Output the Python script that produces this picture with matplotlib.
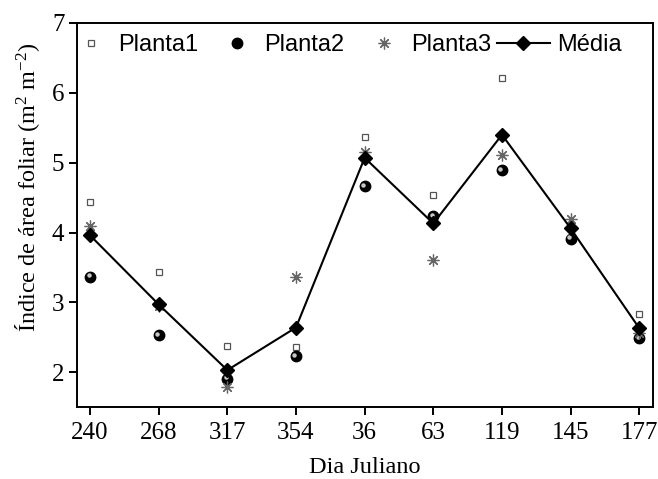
import matplotlib.pyplot as plt
import numpy as np
from matplotlib.legend_handler import HandlerLine2D
from matplotlib.transforms import ScaledTranslation

plt.rcParams['font.family'] = 'Liberation Serif'
plt.rcParams['mathtext.fontset'] = 'custom'
plt.rcParams['mathtext.rm'] = 'Liberation Serif'
plt.rcParams['mathtext.default'] = 'rm'

dias = ['240', '268', '317', '354', '36', '63', '119', '145', '177']
planta1 = [4.43, 3.43, 2.37, 2.36, 5.37, 4.54, 6.21, 4.07, 2.84]
planta2 = [3.37, 2.53, 1.91, 2.23, 4.66, 4.23, 4.89, 3.91, 2.49]
planta3 = [4.09, 2.95, 1.79, 3.36, 5.16, 3.61, 5.11, 4.20, 2.56]
media = [3.96, 2.97, 2.03, 2.64, 5.07, 4.13, 5.40, 4.06, 2.63]


class LongLine(HandlerLine2D):
    # media entry in the legend has a longer line than the others
    def get_xdata(self, legend, xdescent, ydescent, width, height, fontsize):
        xdata, xm = super().get_xdata(legend, xdescent, ydescent, width, height, fontsize)
        xdata = np.array(xdata, dtype=float)
        xdata[0] -= 0.55 * fontsize
        return xdata, xm


x = np.arange(len(dias))

fig = plt.figure(figsize=(6.58, 4.79), dpi=100)
ax = fig.add_axes([0.117, 0.150, 0.8754, 0.802])

ax.plot(x, planta1, ls='none', marker='s', ms=5, mfc='white', mec='#555555', mew=0.9, label='Planta1')
ax.plot(x, planta2, ls='none', marker='o', ms=7.5, color='black', label='Planta2')
# little highlight on the spheres
shine = ax.transData + ScaledTranslation(-1.5 / 100, 1.5 / 100, fig.dpi_scale_trans)
ax.plot(x, planta2, ls='none', marker='o', ms=2.2, color='#c8c8c8', transform=shine)
ax.plot(x, planta3, ls='none', marker=(8, 2, 0), ms=8.5, color='#666666', mew=0.9, label='Planta3')
hm, = ax.plot(x, media, color='black', lw=1.5, marker='D', ms=7, label='Média')

ax.set_xlim(-0.19, 8.2)
ax.set_ylim(1.5, 7)
ax.set_xticks(x)
ax.set_xticklabels(dias)
ax.set_yticks([2, 3, 4, 5, 6, 7])

for s in ax.spines.values():
    s.set_linewidth(1.4)
ax.tick_params(direction='out', length=6, width=1.4, labelsize=18, pad=3)
ax.tick_params(axis='x', pad=5)

ax.set_xlabel('Dia Juliano', fontsize=17.5, labelpad=9)
ax.set_ylabel('Índice de área foliar (m$^{2}$ m$^{-2}$)', fontsize=17.5)
ax.yaxis.set_label_coords(-0.06, 0.573)

leg = ax.legend(ncol=4, loc='upper left', bbox_to_anchor=(-0.035, 1.007), frameon=False,
                prop={'family': 'Liberation Sans', 'size': 17}, handlelength=1.7,
                handletextpad=0.3, columnspacing=0.8, borderaxespad=0.2,
                handler_map={hm: LongLine(numpoints=1)})

fig.savefig('out.png', dpi=100)
